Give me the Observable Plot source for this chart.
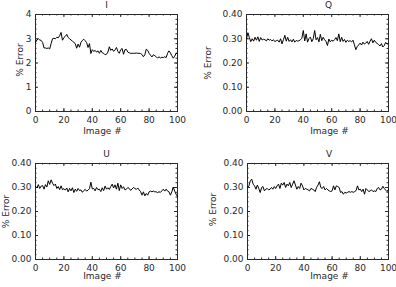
<!DOCTYPE html>
<html><head><meta charset="utf-8">
<script src="https://cdn.jsdelivr.net/npm/d3@7"></script>
<script src="https://cdn.jsdelivr.net/npm/@observablehq/plot@0.6"></script>
<style>
html,body{margin:0;padding:0;background:#fff;}
#chart{position:relative;width:396px;height:287px;overflow:hidden;background:#fff;}
#chart svg{position:absolute;}
</style></head><body><div id="chart"></div>
<script>
// ---- data ----
const imageNumbers = d3.range(0, 101);
const panelTitles = ["I", "Q", "U", "V"];
const xAxisLabel = "Image #";
const yAxisLabel = "% Error";
const xMajorTicks = [0, 20, 40, 60, 80, 100];
const xMinorTicks = d3.range(0, 101, 5);
const yMajorTicksI = [0, 1, 2, 3, 4];
const yMinorTicksI = d3.range(0, 4.001, 0.2);
const yMajorTicksQUV = [0, 0.1, 0.2, 0.3, 0.4];
const yMinorTicksQUV = d3.range(0, 0.4001, 0.02);

const errI = [2.85,2.95,3.00,2.95,2.93,2.85,2.62,2.62,2.60,2.62,2.58,2.80,3.00,3.02,3.00,3.06,3.04,3.12,3.26,2.94,3.05,3.10,3.18,3.05,3.00,2.95,2.90,2.85,2.80,2.61,2.78,2.65,2.85,2.93,2.98,2.92,2.84,2.64,2.80,2.39,2.55,2.48,2.52,2.45,2.50,2.40,2.52,2.42,2.40,2.34,2.36,2.45,2.67,2.52,2.58,2.48,2.54,2.64,2.48,2.40,2.55,2.60,2.36,2.55,2.56,2.45,2.42,2.40,2.40,2.40,2.40,2.41,2.40,2.40,2.39,2.35,2.26,2.34,2.57,2.52,2.40,2.32,2.25,2.34,2.30,2.26,2.20,2.26,2.20,2.24,2.22,2.26,2.22,2.40,2.50,2.42,2.30,2.20,2.28,2.40,2.40];
const errQ = [0.300,0.325,0.305,0.288,0.300,0.290,0.306,0.294,0.308,0.289,0.305,0.295,0.298,0.296,0.291,0.300,0.294,0.297,0.291,0.296,0.288,0.292,0.294,0.286,0.300,0.279,0.296,0.314,0.290,0.306,0.289,0.296,0.287,0.298,0.286,0.293,0.290,0.292,0.296,0.302,0.334,0.291,0.320,0.286,0.301,0.307,0.288,0.300,0.334,0.296,0.305,0.287,0.318,0.292,0.306,0.296,0.289,0.272,0.299,0.287,0.294,0.290,0.296,0.305,0.292,0.320,0.288,0.306,0.289,0.297,0.285,0.294,0.289,0.292,0.287,0.294,0.275,0.255,0.268,0.275,0.282,0.274,0.286,0.278,0.282,0.289,0.277,0.290,0.300,0.283,0.294,0.285,0.281,0.276,0.270,0.280,0.266,0.272,0.285,0.278,0.282];
const errU = [0.305,0.298,0.312,0.296,0.306,0.308,0.293,0.312,0.302,0.328,0.313,0.332,0.318,0.308,0.314,0.296,0.304,0.291,0.307,0.291,0.295,0.289,0.298,0.282,0.296,0.286,0.299,0.279,0.293,0.284,0.296,0.287,0.290,0.280,0.287,0.292,0.285,0.289,0.295,0.322,0.294,0.296,0.286,0.300,0.291,0.293,0.283,0.299,0.287,0.306,0.293,0.299,0.292,0.304,0.314,0.298,0.311,0.293,0.318,0.287,0.311,0.296,0.303,0.290,0.293,0.300,0.296,0.288,0.294,0.300,0.296,0.292,0.298,0.290,0.283,0.268,0.282,0.265,0.275,0.268,0.282,0.285,0.282,0.285,0.282,0.282,0.279,0.282,0.280,0.286,0.293,0.285,0.293,0.285,0.282,0.268,0.282,0.302,0.285,0.272,0.262];
const errV = [0.300,0.307,0.328,0.335,0.314,0.307,0.293,0.310,0.296,0.279,0.300,0.304,0.286,0.293,0.296,0.290,0.293,0.300,0.293,0.304,0.296,0.307,0.314,0.296,0.318,0.310,0.321,0.300,0.314,0.307,0.321,0.300,0.314,0.328,0.310,0.293,0.304,0.296,0.318,0.307,0.290,0.296,0.293,0.290,0.286,0.296,0.293,0.290,0.283,0.300,0.310,0.324,0.300,0.296,0.304,0.290,0.296,0.290,0.286,0.283,0.286,0.307,0.290,0.307,0.304,0.300,0.279,0.283,0.272,0.280,0.277,0.280,0.283,0.280,0.283,0.280,0.283,0.287,0.307,0.290,0.293,0.283,0.293,0.272,0.296,0.290,0.283,0.286,0.290,0.283,0.286,0.283,0.296,0.300,0.290,0.293,0.305,0.296,0.289,0.283,0.292];

// ---- layout ----
const layout = [
  {left:0,   top:0,   w:198, h:143, mL:35, mR:21, mT:14, mB:32, titleDx:0,  xlabDx:-4,   xlabDy:16,   ylabDx:-15, ylabDy:-3},
  {left:198, top:0,   w:198, h:143, mL:48, mR:8,  mT:14, mB:32, titleDx:11, xlabDx:12,   xlabDy:16,   ylabDx:-38, ylabDy:0},
  {left:0,   top:143, w:198, h:144, mL:35, mR:21, mT:20, mB:28, titleDx:0,  xlabDx:-4,   xlabDy:13.5, ylabDx:-29, ylabDy:0},
  {left:198, top:143, w:198, h:144, mL:49, mR:8,  mT:20, mB:28, titleDx:11, xlabDx:11.5, xlabDy:13.5, ylabDx:-34, ylabDy:-2}
];
const series = [errI, errQ, errU, errV];
const ink = "#2a2a2a";
const majorLen = 3, minorLen = 1.5;

const chart = document.getElementById("chart");
series.forEach((vals, k) => {
  const L = layout[k];
  const isI = k === 0;
  const yDomain = isI ? [0, 4] : [0, 0.4];
  const yMaj = isI ? yMajorTicksI : yMajorTicksQUV;
  const yMin = isI ? yMinorTicksI : yMinorTicksQUV;
  const yFmt = isI ? d3.format("d") : d3.format(".2f");
  const innerH = L.h - L.mT - L.mB;
  const innerW = L.w - L.mL - L.mR;
  const data = vals.map((v, i) => ({image: imageNumbers[i], err: v}));
  const svg = Plot.plot({
    width: L.w, height: L.h,
    marginLeft: L.mL, marginRight: L.mR, marginTop: L.mT, marginBottom: L.mB,
    x: {domain: [0, 100]},
    y: {domain: yDomain},
    style: {fontFamily: "DejaVu Sans, sans-serif", fontSize: "9px", color: ink, background: "transparent", overflow: "visible"},
    marks: [
      Plot.tickX(xMajorTicks, {x: d => d, insetTop: innerH - majorLen, stroke: ink}),
      Plot.tickX(xMajorTicks, {x: d => d, insetBottom: innerH - majorLen, stroke: ink}),
      Plot.tickX(xMinorTicks, {x: d => d, insetTop: innerH - minorLen, stroke: ink}),
      Plot.tickX(xMinorTicks, {x: d => d, insetBottom: innerH - minorLen, stroke: ink}),
      Plot.tickY(yMaj, {y: d => d, insetRight: innerW - majorLen, stroke: ink}),
      Plot.tickY(yMaj, {y: d => d, insetLeft: innerW - majorLen, stroke: ink}),
      Plot.tickY(yMin, {y: d => d, insetRight: innerW - minorLen, stroke: ink}),
      Plot.tickY(yMin, {y: d => d, insetLeft: innerW - minorLen, stroke: ink}),
      Plot.frame({stroke: ink}),
      Plot.axisX({ticks: xMajorTicks, tickSize: 0, tickPadding: 5, label: null, fill: ink}),
      Plot.axisY({ticks: yMaj, tickSize: 0, tickPadding: 4, tickFormat: yFmt, label: null, fill: ink}),
      Plot.line(data, {x: "image", y: "err", stroke: "#000", strokeWidth: 1}),
      Plot.text([panelTitles[k]], {frameAnchor: "top", lineAnchor: "top", dy: -12.5, dx: L.titleDx, fill: ink}),
      Plot.text([xAxisLabel], {frameAnchor: "bottom", lineAnchor: "top", dy: L.xlabDy, dx: L.xlabDx, fill: ink}),
      Plot.text([yAxisLabel], {frameAnchor: "left", textAnchor: "middle", lineAnchor: "middle", rotate: -90, dx: L.ylabDx, dy: L.ylabDy, fill: ink})
    ]
  });
  svg.style.left = L.left + "px";
  svg.style.top = L.top + "px";
  chart.appendChild(svg);
});
</script>
</body></html>
